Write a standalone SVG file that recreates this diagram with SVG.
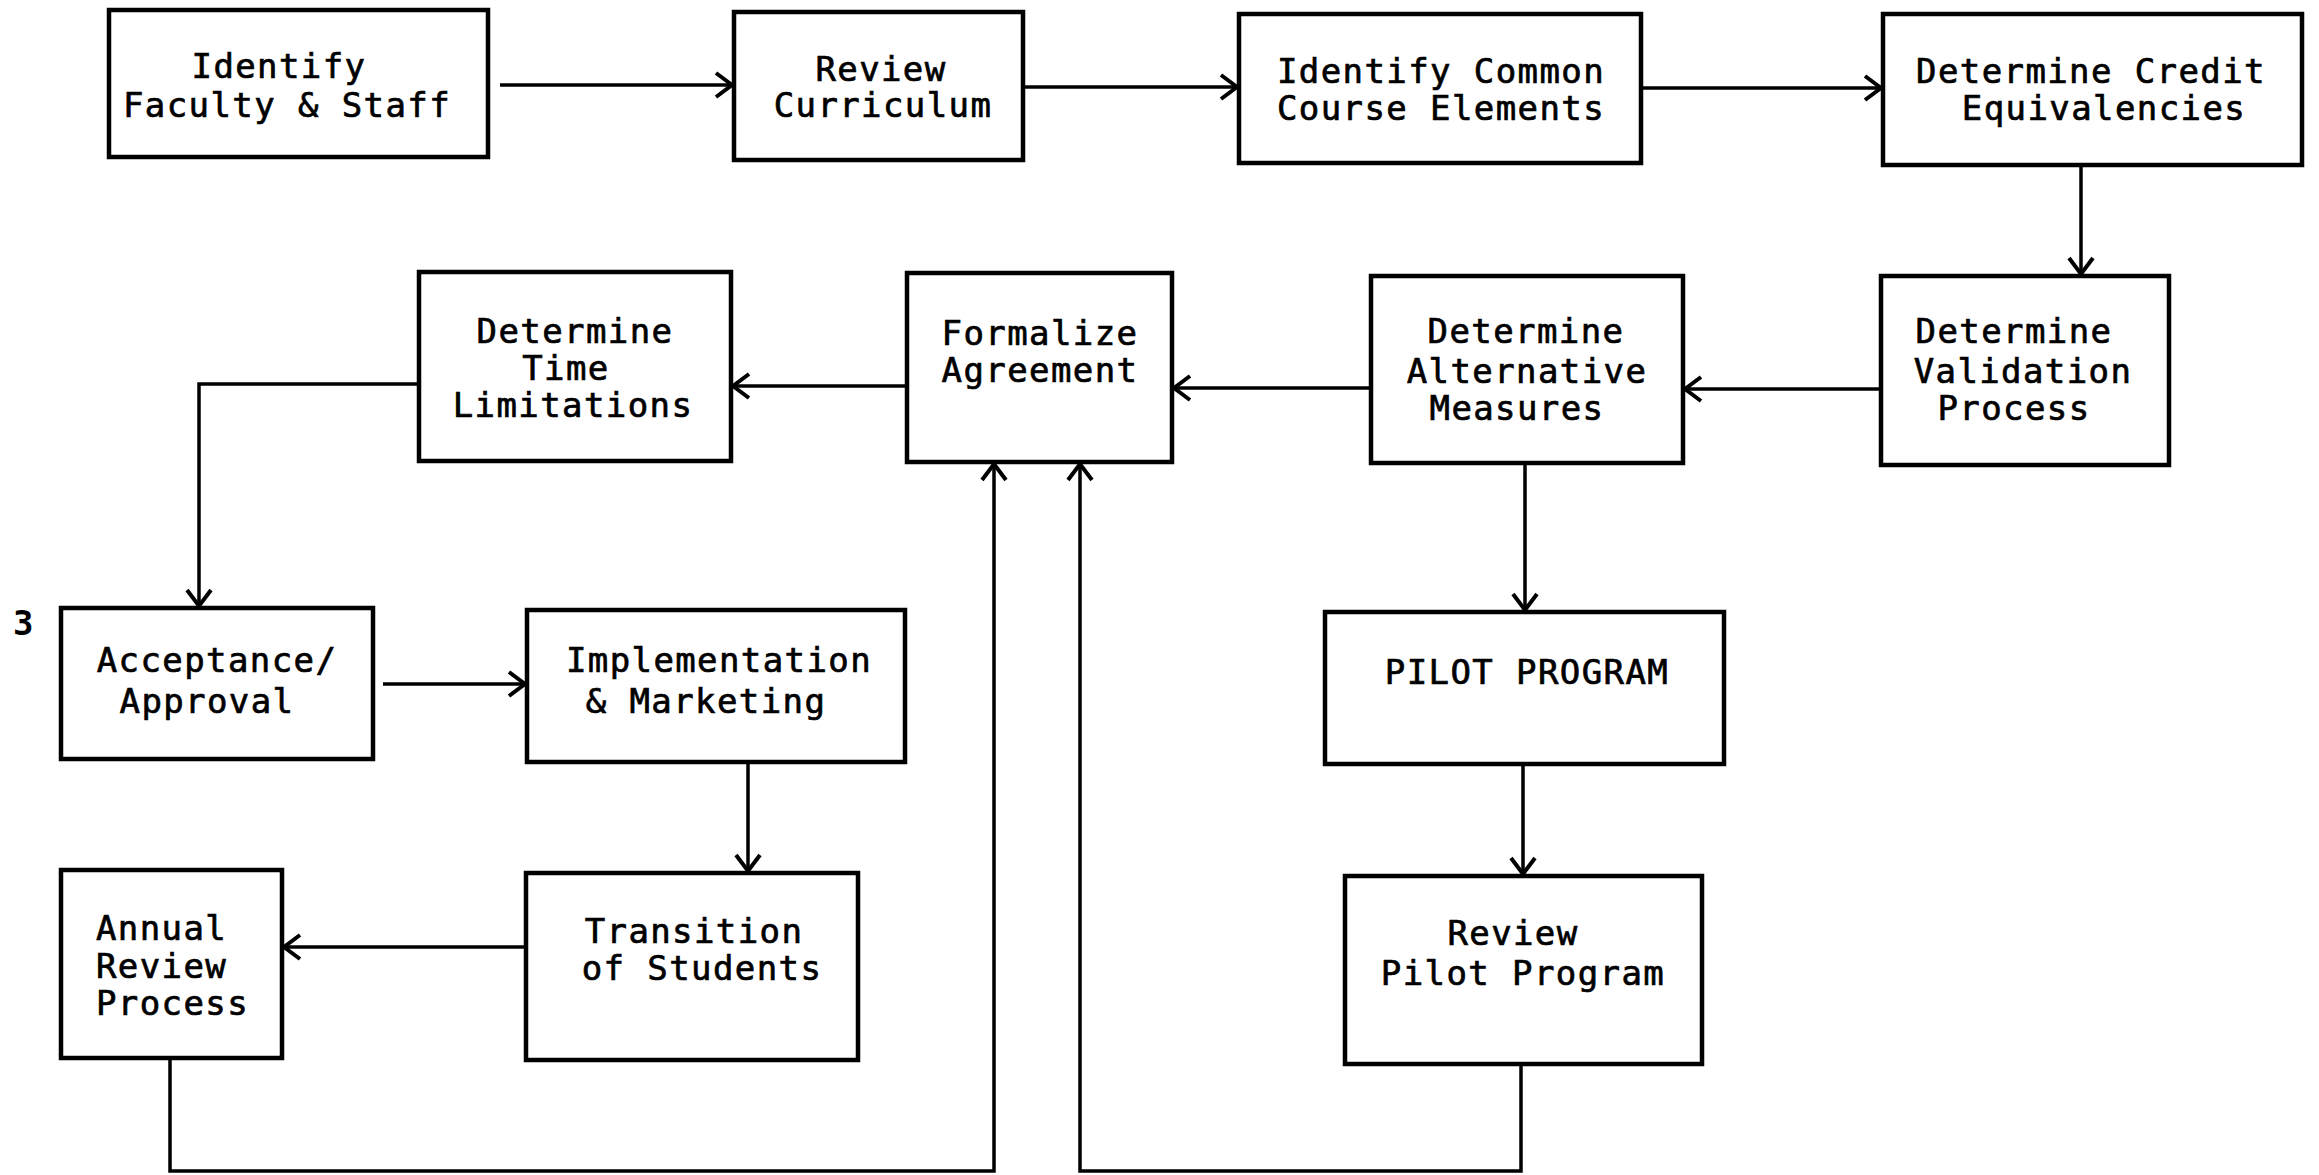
<svg xmlns="http://www.w3.org/2000/svg" width="2319" height="1175" viewBox="0 0 2319 1175">
<style>
.box{fill:#fff;stroke:#000;stroke-width:4.5}
.t{font-family:"DejaVu Sans Mono","Liberation Mono",monospace;font-size:34px;letter-spacing:1.4px;fill:#000;text-anchor:middle;stroke:#000;stroke-width:0.7}
.s{text-anchor:start}
.c{fill:none;stroke:#000;stroke-width:3.5}
</style>
<defs>
<marker id="ah" markerUnits="userSpaceOnUse" markerWidth="30" markerHeight="30" viewBox="0 0 30 30" refX="24" refY="15" orient="auto">
<path d="M8,3 L24,15 L8,27" fill="none" stroke="#000" stroke-width="4"/>
</marker>
</defs>
<rect width="2319" height="1175" fill="#fff"/>
<g id="connectors">
<path class="c" d="M500,85 H732" marker-end="url(#ah)"/>
<path class="c" d="M1025,87 H1237" marker-end="url(#ah)"/>
<path class="c" d="M1643,88 H1881" marker-end="url(#ah)"/>
<path class="c" d="M2081,165 V274" marker-end="url(#ah)"/>
<path class="c" d="M1879,389 H1685" marker-end="url(#ah)"/>
<path class="c" d="M1369,388 H1174" marker-end="url(#ah)"/>
<path class="c" d="M905,386 H733" marker-end="url(#ah)"/>
<path class="c" d="M419,384 H199 V606" marker-end="url(#ah)"/>
<path class="c" d="M383,684 H525" marker-end="url(#ah)"/>
<path class="c" d="M748,762 V871" marker-end="url(#ah)"/>
<path class="c" d="M526,947 H284" marker-end="url(#ah)"/>
<path class="c" d="M170,1058 V1171 H994 V464" marker-end="url(#ah)"/>
<path class="c" d="M1525,463 V610" marker-end="url(#ah)"/>
<path class="c" d="M1523,764 V874" marker-end="url(#ah)"/>
<path class="c" d="M1521,1064 V1171 H1080 V464" marker-end="url(#ah)"/>
</g>
<g id="n1"><rect class="box" x="109" y="10" width="379" height="147"/>
<text class="t" x="279" y="78">Identify</text><text class="t" x="287" y="117">Faculty &amp; Staff</text></g>
<g id="n2"><rect class="box" x="734" y="12" width="289" height="148"/>
<text class="t" x="881" y="81">Review</text><text class="t" x="883" y="117">Curriculum</text></g>
<g id="n3"><rect class="box" x="1239" y="14" width="402" height="149"/>
<text class="t" x="1441" y="83">Identify Common</text><text class="t" x="1441" y="120">Course Elements</text></g>
<g id="n4"><rect class="box" x="1883" y="14" width="419" height="151"/>
<text class="t" x="2091" y="83">Determine Credit</text><text class="t" x="2104" y="120">Equivalencies</text></g>
<g id="n5"><rect class="box" x="1881" y="276" width="288" height="189"/>
<text class="t" x="2014" y="343">Determine</text><text class="t" x="2023" y="383">Validation</text><text class="t" x="2014" y="420">Process</text></g>
<g id="n6"><rect class="box" x="1371" y="276" width="312" height="187"/>
<text class="t" x="1526" y="343">Determine</text><text class="t" x="1527" y="383">Alternative</text><text class="t" x="1517" y="420">Measures</text></g>
<g id="n7"><rect class="box" x="907" y="273" width="265" height="189"/>
<text class="t" x="1040" y="345">Formalize</text><text class="t" x="1040" y="382">Agreement</text></g>
<g id="n8"><rect class="box" x="419" y="272" width="312" height="189"/>
<text class="t" x="575" y="343">Determine</text><text class="t" x="566" y="380">Time</text><text class="t" x="573" y="417">Limitations</text></g>
<g id="n9"><rect class="box" x="61" y="608" width="312" height="151"/>
<text class="t" x="217" y="672">Acceptance/</text><text class="t" x="207" y="713">Approval</text></g>
<g id="n10"><rect class="box" x="527" y="610" width="378" height="152"/>
<text class="t" x="719" y="672">Implementation</text><text class="t" x="706" y="713">&amp; Marketing</text></g>
<g id="n11"><rect class="box" x="526" y="873" width="332" height="187"/>
<text class="t" x="694" y="943">Transition</text><text class="t" x="702" y="980">of Students</text></g>
<g id="n12"><rect class="box" x="61" y="870" width="221" height="188"/>
<text class="t s" x="96" y="940">Annual</text><text class="t s" x="96" y="978">Review</text><text class="t s" x="96" y="1015">Process</text></g>
<g id="n13"><rect class="box" x="1325" y="612" width="399" height="152"/>
<text class="t" x="1527" y="684">PILOT PROGRAM</text></g>
<g id="n14"><rect class="box" x="1345" y="876" width="357" height="188"/>
<text class="t" x="1513" y="945">Review</text><text class="t" x="1523" y="985">Pilot Program</text></g>
<text x="13" y="635" font-family="DejaVu Sans Mono, monospace" font-size="34" font-weight="bold">3</text>
</svg>
